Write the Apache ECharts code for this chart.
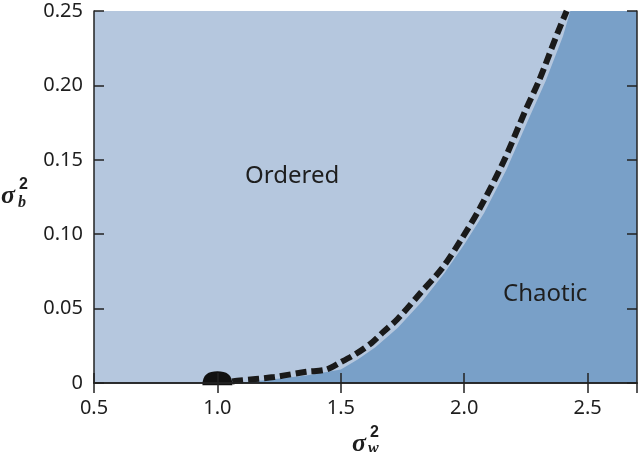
<!DOCTYPE html>
<html>
<head>
<meta charset="utf-8">
<script src="https://cdn.jsdelivr.net/npm/echarts@6/dist/echarts.min.js"></script>
<style>
  html, body { margin: 0; padding: 0; background: #fff; }
</style>
</head>
<body>
<div id="myChart" style="width: 640px; height: 452px;"></div>
<script>
  // dashed phase-boundary curve (sigma_w^2, sigma_b^2)
  var curveX = [1.06, 1.08, 1.23, 1.36, 1.44, 1.50, 1.56, 1.625, 1.67, 1.73, 1.82, 1.91, 1.99, 2.065, 2.16, 2.245, 2.305, 2.38, 2.415];
  var curveY = [0.001, 0.0015, 0.004, 0.0075, 0.009, 0.014, 0.0195, 0.027, 0.034, 0.043, 0.060, 0.077, 0.097, 0.118, 0.149, 0.182, 0.204, 0.236, 0.25];

  // edge of the chaotic (dark) region
  var edgeX = [1.08, 1.20, 1.36, 1.50, 1.57, 1.64, 1.73, 1.83, 1.92, 2.00, 2.08, 2.17, 2.26, 2.33, 2.40, 2.43, 2.70];
  var edgeY = [0, 0.002, 0.005, 0.009, 0.016, 0.024, 0.037, 0.055, 0.074, 0.093, 0.114, 0.143, 0.177, 0.203, 0.233, 0.25, 0.25];

  // critical point marker
  var pointX = [1.0];
  var pointY = [0.0032];

  var xTicks = [0.5, 1.0, 1.5, 2.0, 2.5];
  var yTicks = [0, 0.05, 0.10, 0.15, 0.20, 0.25];

  var regionLabels = ['Ordered', 'Chaotic'];

  function pairs(xs, ys) {
    var out = [];
    for (var i = 0; i < xs.length; i++) out.push([xs[i], ys[i]]);
    return out;
  }

  var textColor = '#1e1e1e';
  var axisColor = '#222';

  var myChart = echarts.init(document.getElementById('myChart'));

  var tickStyle = { show: true, inside: true, length: 10, lineStyle: { color: axisColor, width: 1.5 } };
  var lineStyleAx = { show: true, lineStyle: { color: axisColor, width: 1.5 } };

  myChart.setOption({
    animation: false,
    grid: {
      left: 94, right: 3, top: 11, bottom: 69,
      show: true,
      backgroundColor: '#b5c7de',
      borderWidth: 0
    },
    xAxis: [{
      type: 'value',
      min: 0.5, max: 2.7, interval: 0.5,
      position: 'bottom',
      z: 10,
      axisLine: lineStyleAx,
      axisTick: tickStyle,
      splitLine: { show: false },
      axisLabel: {
        showMaxLabel: false,
        margin: 15,
        color: textColor,
        fontSize: 20,
        fontFamily: 'Noto Sans',
        formatter: function (v) { return xTicks.indexOf(v) >= 0 ? v.toFixed(1) : ''; }
      }
    }, {
      type: 'value',
      min: 0.5, max: 2.7, interval: 0.5,
      position: 'top',
      z: 10,
      axisLine: lineStyleAx,
      axisTick: tickStyle,
      splitLine: { show: false },
      axisLabel: { show: false }
    }],
    yAxis: [{
      type: 'value',
      min: 0, max: 0.25, interval: 0.05,
      position: 'left',
      z: 10,
      axisLine: lineStyleAx,
      axisTick: tickStyle,
      splitLine: { show: false },
      axisLabel: {
        margin: 11,
        color: textColor,
        fontSize: 20,
        fontFamily: 'Noto Sans',
        formatter: function (v) {
          var i = yTicks.indexOf(Math.round(v * 100) / 100);
          if (i < 0) return '';
          return v === 0 ? '0' : yTicks[i].toFixed(2);
        }
      }
    }, {
      type: 'value',
      min: 0, max: 0.25, interval: 0.05,
      position: 'right',
      z: 10,
      axisLine: lineStyleAx,
      axisTick: tickStyle,
      splitLine: { show: false },
      axisLabel: { show: false }
    }],
    series: [{
      name: 'chaotic',
      type: 'line',
      data: pairs(edgeX, edgeY),
      symbol: 'none',
      lineStyle: { width: 0 },
      areaStyle: { color: '#79a0c8', opacity: 1, origin: 'start' },
      z: 1
    }, {
      name: 'boundary',
      type: 'line',
      data: pairs(curveX, curveY),
      symbol: 'none',
      smooth: 0.3,
      lineStyle: { color: '#1a1a1a', width: 6, type: [11, 5] },
      z: 3
    }, {
      name: 'point',
      type: 'scatter',
      data: pairs(pointX, pointY),
      symbol: 'path://M0,14 C0,3 6,0 15,0 C24,0 30,3 30,14 Z',
      symbolSize: [30, 14],
      symbolKeepAspect: false,
      itemStyle: { color: '#111', opacity: 1 },
      z: 4
    }],
    graphic: [
      { type: 'text', left: 245, top: 164, z: 20,
        style: { text: regionLabels[0], fill: textColor, fontSize: 24, fontFamily: 'Noto Sans' } },
      { type: 'text', left: 503, top: 282, z: 20,
        style: { text: regionLabels[1], fill: textColor, fontSize: 24, fontFamily: 'Noto Sans' } },
      // y axis name: sigma_b^2
      { type: 'text', x: 1, y: 196, z: 20,
        style: { text: 'σ', fill: textColor, fontSize: 26, fontWeight: 'bold', fontStyle: 'italic', fontFamily: 'Liberation Serif', verticalAlign: 'middle' } },
      { type: 'text', x: 19, y: 185, z: 20,
        style: { text: '2', fill: textColor, fontSize: 16, fontWeight: 'bold', fontFamily: 'Liberation Sans', verticalAlign: 'middle' } },
      { type: 'text', x: 18, y: 203, z: 20,
        style: { text: 'b', fill: textColor, fontSize: 16, fontWeight: 'bold', fontStyle: 'italic', fontFamily: 'Liberation Serif', verticalAlign: 'middle' } },
      // x axis name: sigma_w^2
      { type: 'text', x: 352, y: 444, z: 20,
        style: { text: 'σ', fill: textColor, fontSize: 26, fontWeight: 'bold', fontStyle: 'italic', fontFamily: 'Liberation Serif', verticalAlign: 'middle' } },
      { type: 'text', x: 370, y: 433, z: 20,
        style: { text: '2', fill: textColor, fontSize: 16, fontWeight: 'bold', fontFamily: 'Liberation Sans', verticalAlign: 'middle' } },
      { type: 'text', x: 368, y: 449, z: 20,
        style: { text: 'w', fill: textColor, fontSize: 16, fontWeight: 'bold', fontStyle: 'italic', fontFamily: 'Liberation Serif', verticalAlign: 'middle' } }
    ]
  });
</script>
</body>
</html>
